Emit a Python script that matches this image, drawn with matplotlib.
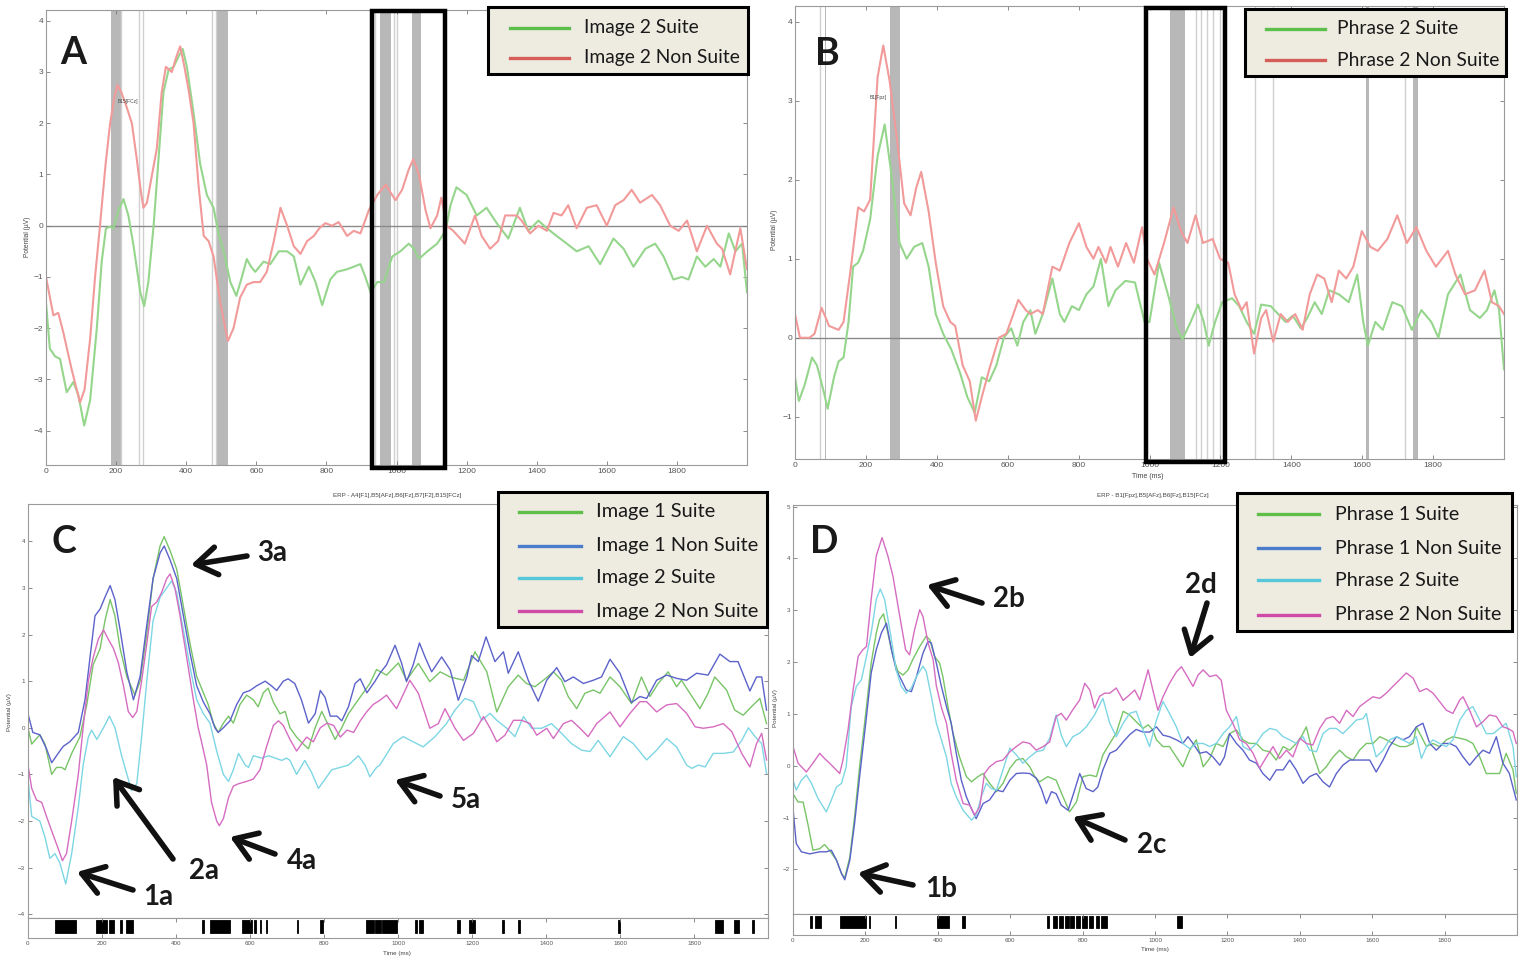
import matplotlib as mpl
mpl.use("Agg")
import matplotlib.pyplot as plt
import matplotlib.transforms as mtransforms
from matplotlib.patches import Rectangle, FancyArrowPatch
from matplotlib.lines import Line2D

plt.rcParams['font.family'] = ['Liberation Sans', 'DejaVu Sans']
plt.rcParams['lines.solid_joinstyle'] = 'round'

# ---------------- data (ms, microvolts) ----------------
# panel A
a_red_t = [0, 21, 35, 50, 73, 97, 110, 126, 140, 154, 170, 183, 195, 204, 215, 226, 245, 259, 270, 278, 288, 300, 316, 330, 342, 359, 372, 383, 395, 408, 421, 435, 450, 464, 478, 497, 519, 535, 554, 573, 592, 611, 630, 650, 669, 688, 707, 726, 745, 764, 780, 797, 816, 835, 859, 878, 897, 921, 945, 969, 997, 1016, 1035, 1048, 1064, 1083, 1097, 1116, 1128, 1143, 1162, 1195, 1224, 1243, 1267, 1290, 1310, 1343, 1357, 1381, 1405, 1429, 1448, 1471, 1490, 1514, 1543, 1571, 1600, 1624, 1648, 1671, 1695, 1729, 1752, 1781, 1805, 1829, 1857, 1886, 1914, 1929, 1952, 1981, 2000]
a_red_v = [-1.0, -1.75, -1.7, -2.1, -2.8, -3.45, -3.2, -2.2, -1.0, 0.0, 1.2, 2.0, 2.5, 2.75, 2.6, 2.4, 2.0, 1.3, 0.7, 0.35, 0.45, 0.9, 1.5, 2.6, 3.1, 3.0, 3.3, 3.5, 3.1, 2.6, 2.0, 0.8, -0.2, -0.3, -0.6, -1.5, -2.25, -2.0, -1.4, -1.15, -1.1, -1.1, -0.9, -0.3, 0.35, 0.0, -0.4, -0.55, -0.3, -0.2, -0.05, 0.05, 0.0, 0.07, -0.2, -0.1, -0.15, 0.3, 0.6, 0.8, 0.5, 0.7, 1.1, 1.3, 1.0, 0.3, -0.05, 0.2, 0.55, 0.0, -0.1, -0.35, 0.2, -0.2, -0.45, -0.3, 0.2, 0.2, 0.1, -0.15, 0.0, -0.1, 0.25, 0.2, 0.4, -0.05, 0.35, 0.4, 0.0, 0.4, 0.5, 0.7, 0.45, 0.6, 0.4, 0.0, -0.1, 0.1, -0.5, 0.0, -0.35, -0.45, -0.95, -0.05, -0.85]
a_green_t = [0, 11, 26, 40, 59, 78, 92, 109, 126, 145, 159, 171, 183, 192, 207, 221, 235, 250, 269, 280, 292, 307, 321, 335, 350, 364, 378, 390, 402, 421, 440, 459, 478, 492, 507, 526, 543, 559, 573, 585, 597, 621, 640, 664, 688, 707, 726, 750, 769, 788, 811, 830, 859, 878, 897, 911, 926, 945, 964, 988, 1011, 1035, 1050, 1064, 1088, 1116, 1140, 1154, 1171, 1200, 1229, 1257, 1286, 1319, 1352, 1376, 1405, 1429, 1457, 1486, 1514, 1548, 1581, 1619, 1648, 1676, 1710, 1738, 1762, 1790, 1814, 1833, 1857, 1881, 1905, 1924, 1948, 1967, 1986, 2000]
a_green_v = [-1.5, -2.4, -2.55, -2.6, -3.25, -3.05, -3.3, -3.9, -3.4, -2.0, -0.7, -0.05, -0.02, -0.05, 0.3, 0.52, 0.2, -0.4, -1.3, -1.57, -1.1, 0.0, 1.3, 2.6, 3.05, 3.1, 3.3, 3.45, 3.1, 2.2, 1.2, 0.6, 0.35, -0.15, -0.5, -1.1, -1.37, -1.0, -0.65, -0.8, -0.9, -0.7, -0.75, -0.5, -0.5, -0.6, -1.15, -0.8, -1.1, -1.55, -1.05, -0.9, -0.85, -0.8, -0.75, -1.0, -1.3, -1.1, -1.1, -0.6, -0.5, -0.35, -0.45, -0.65, -0.5, -0.35, -0.1, 0.4, 0.75, 0.6, 0.2, 0.35, 0.05, -0.25, 0.35, -0.1, 0.1, -0.05, -0.2, -0.35, -0.5, -0.4, -0.75, -0.25, -0.45, -0.8, -0.45, -0.35, -0.6, -1.05, -1.0, -1.05, -0.6, -0.8, -0.65, -0.8, -0.15, -0.5, -0.35, -1.3]

# panel B
b_red_t = [0, 14, 41, 55, 75, 96, 123, 137, 158, 178, 195, 212, 233, 249, 267, 288, 308, 326, 342, 356, 377, 397, 418, 438, 452, 473, 493, 510, 527, 548, 575, 596, 616, 630, 651, 664, 685, 699, 726, 747, 774, 801, 822, 842, 856, 877, 890, 911, 934, 956, 979, 993, 1014, 1041, 1068, 1089, 1107, 1130, 1151, 1178, 1199, 1222, 1240, 1260, 1274, 1295, 1315, 1329, 1349, 1370, 1390, 1411, 1432, 1452, 1473, 1493, 1514, 1534, 1555, 1575, 1599, 1623, 1644, 1671, 1699, 1726, 1753, 1781, 1808, 1842, 1863, 1890, 1918, 1945, 1966, 1986, 2000]
b_red_v = [0.3, 0.0, 0.0, 0.05, 0.38, 0.15, 0.1, 0.2, 0.9, 1.65, 1.6, 1.75, 3.3, 3.7, 3.25, 2.5, 1.7, 1.55, 1.9, 2.1, 1.6, 0.95, 0.4, 0.2, 0.15, -0.35, -0.55, -1.05, -0.75, -0.4, 0.0, 0.05, 0.3, 0.48, 0.35, 0.3, 0.35, 0.3, 0.9, 0.85, 1.2, 1.45, 1.15, 1.0, 1.15, 0.95, 1.15, 0.9, 1.2, 0.95, 1.4, 1.0, 0.8, 1.2, 1.65, 1.35, 1.2, 1.55, 1.2, 1.25, 1.0, 0.95, 0.55, 0.35, 0.45, -0.2, 0.25, 0.35, -0.05, 0.3, 0.2, 0.3, 0.1, 0.55, 0.8, 0.75, 0.45, 0.85, 0.75, 0.9, 1.35, 1.15, 1.1, 1.25, 1.55, 1.2, 1.4, 1.1, 0.9, 1.1, 0.8, 0.55, 0.6, 0.85, 0.45, 0.4, 0.3]
b_green_t = [0, 11, 27, 48, 62, 82, 92, 110, 123, 137, 151, 164, 178, 192, 212, 233, 253, 274, 295, 315, 336, 359, 377, 397, 418, 441, 466, 486, 507, 527, 548, 568, 589, 610, 627, 644, 664, 678, 699, 726, 747, 760, 781, 801, 822, 842, 863, 884, 904, 932, 959, 986, 1000, 1027, 1055, 1075, 1093, 1116, 1137, 1153, 1167, 1185, 1205, 1233, 1253, 1274, 1295, 1315, 1342, 1363, 1384, 1404, 1427, 1445, 1466, 1486, 1507, 1534, 1562, 1586, 1603, 1616, 1637, 1658, 1685, 1712, 1740, 1767, 1795, 1815, 1842, 1877, 1904, 1932, 1952, 1973, 1986, 2000]
b_green_v = [-0.5, -0.8, -0.6, -0.25, -0.35, -0.7, -0.9, -0.5, -0.3, -0.25, 0.2, 0.9, 0.95, 1.1, 1.5, 2.3, 2.7, 2.0, 1.2, 1.0, 1.15, 1.2, 0.9, 0.3, 0.05, -0.15, -0.45, -0.75, -0.95, -0.5, -0.55, -0.35, 0.0, 0.12, -0.1, 0.2, 0.35, 0.05, 0.3, 0.75, 0.3, 0.2, 0.4, 0.35, 0.55, 0.65, 1.0, 0.4, 0.6, 0.72, 0.7, 0.2, 0.2, 0.95, 0.5, 0.15, -0.02, 0.2, 0.42, 0.2, -0.1, 0.2, 0.45, 0.5, 0.4, 0.2, 0.05, 0.42, 0.4, 0.3, 0.2, 0.28, 0.12, 0.25, 0.45, 0.3, 0.6, 0.55, 0.45, 0.8, 0.2, -0.1, 0.2, 0.1, 0.45, 0.4, 0.1, 0.35, 0.2, 0.0, 0.55, 0.8, 0.35, 0.25, 0.35, 0.6, 0.35, -0.4]

# panel C
c_green_t = [0, 10, 32, 46, 64, 77, 91, 100, 118, 140, 159, 176, 195, 208, 222, 235, 249, 267, 289, 303, 321, 338, 357, 368, 384, 402, 420, 438, 456, 474, 487, 501, 514, 528, 542, 555, 573, 591, 609, 622, 636, 649, 663, 681, 695, 708, 726, 744, 758, 776, 794, 812, 830, 848, 866, 888, 906, 924, 942, 969, 1001, 1023, 1055, 1086, 1114, 1141, 1177, 1208, 1240, 1267, 1298, 1325, 1347, 1370, 1393, 1420, 1442, 1460, 1483, 1505, 1528, 1546, 1573, 1600, 1631, 1658, 1681, 1703, 1730, 1753, 1766, 1789, 1816, 1838, 1856, 1888, 1910, 1933, 1955, 1978, 1996]
c_green_v = [0.0, -0.35, -0.15, -0.35, -1.0, -0.85, -0.85, -0.9, -0.55, -0.2, 0.5, 1.35, 1.7, 2.3, 2.75, 2.4, 1.7, 1.1, 0.7, 1.0, 2.0, 3.2, 3.9, 4.1, 3.8, 3.4, 2.6, 1.8, 1.1, 0.75, 0.5, 0.1, -0.1, 0.1, 0.25, 0.1, 0.5, 0.7, 0.6, 0.45, 0.75, 0.85, 0.55, 0.3, 0.35, 0.0, -0.2, -0.35, -0.45, 0.0, 0.35, 0.05, -0.25, 0.0, 0.3, 0.55, 0.75, 0.95, 1.25, 1.13, 1.39, 1.02, 1.38, 0.99, 1.2, 1.09, 1.02, 1.63, 1.2, 0.34, 0.88, 1.13, 0.95, 0.88, 1.02, 1.2, 1.02, 0.67, 0.41, 0.74, 0.81, 0.74, 1.09, 0.88, 0.52, 1.09, 0.67, 0.95, 1.2, 0.88, 1.02, 0.74, 0.41, 0.74, 1.09, 0.81, 0.38, 0.27, 0.45, 0.63, 0.09]
c_blue_t = [0, 13, 32, 50, 64, 77, 95, 113, 136, 154, 172, 181, 195, 208, 222, 235, 249, 267, 285, 303, 321, 338, 357, 368, 384, 402, 420, 438, 456, 474, 492, 505, 514, 528, 546, 564, 582, 600, 618, 641, 658, 672, 690, 703, 721, 739, 758, 776, 790, 803, 817, 835, 848, 866, 884, 898, 916, 938, 951, 969, 992, 1010, 1023, 1041, 1058, 1073, 1091, 1118, 1141, 1163, 1186, 1199, 1217, 1238, 1262, 1285, 1298, 1325, 1352, 1379, 1402, 1429, 1451, 1474, 1501, 1528, 1550, 1573, 1600, 1631, 1654, 1672, 1699, 1726, 1753, 1780, 1807, 1838, 1870, 1897, 1919, 1951, 1969, 1983, 1996]
c_blue_v = [0.3, -0.1, -0.15, -0.45, -0.75, -0.6, -0.4, -0.3, -0.1, 0.6, 1.8, 2.4, 2.55, 2.8, 3.05, 2.75, 2.1, 1.2, 0.6, 1.1, 2.2, 3.2, 3.75, 3.9, 3.6, 3.2, 2.4, 1.6, 0.9, 0.55, 0.3, 0.0, -0.1, 0.0, 0.15, 0.5, 0.75, 0.8, 0.9, 1.0, 0.9, 0.8, 1.0, 1.05, 0.95, 0.6, 0.1, 0.3, 0.8, 0.65, 0.25, 0.25, 0.15, 0.45, 0.95, 1.05, 0.75, 1.0, 1.17, 1.35, 1.77, 1.38, 0.99, 1.35, 1.82, 1.52, 1.2, 1.52, 1.24, 0.59, 1.09, 1.55, 1.42, 1.95, 1.42, 1.63, 1.17, 1.63, 1.02, 0.57, 1.02, 1.29, 0.99, 1.09, 0.95, 1.02, 1.09, 1.47, 1.17, 0.54, 0.67, 0.63, 1.02, 1.13, 1.06, 1.02, 1.17, 1.13, 1.58, 1.42, 1.42, 0.79, 1.09, 1.09, 0.38]
c_cyan_t = [0, 10, 32, 46, 59, 73, 86, 102, 118, 136, 149, 163, 172, 186, 204, 220, 235, 253, 271, 280, 294, 307, 321, 338, 357, 375, 388, 402, 420, 438, 456, 474, 492, 510, 528, 542, 555, 569, 587, 596, 609, 632, 650, 668, 686, 699, 708, 726, 748, 766, 785, 803, 821, 844, 866, 893, 911, 924, 942, 951, 987, 1014, 1041, 1068, 1100, 1131, 1154, 1181, 1204, 1226, 1249, 1267, 1294, 1316, 1339, 1361, 1388, 1415, 1442, 1469, 1496, 1519, 1541, 1573, 1609, 1636, 1672, 1699, 1726, 1753, 1780, 1794, 1812, 1830, 1852, 1879, 1906, 1929, 1947, 1965, 1983, 1996]
c_cyan_v = [-1.1, -1.9, -2.0, -2.35, -2.8, -2.7, -2.9, -3.35, -2.7, -1.7, -0.8, -0.2, -0.05, -0.25, 0.0, 0.25, 0.0, -0.6, -1.1, -1.35, -1.2, -0.2, 1.0, 2.3, 2.8, 3.0, 3.15, 2.9, 2.1, 1.3, 0.6, 0.3, 0.1, -0.5, -1.0, -1.15, -0.9, -0.55, -0.8, -0.85, -0.6, -0.65, -0.6, -0.65, -0.7, -0.65, -0.7, -1.0, -0.7, -0.95, -1.3, -1.1, -0.9, -0.85, -0.8, -0.6, -0.8, -1.05, -0.85, -0.8, -0.34, -0.19, -0.3, -0.41, -0.19, 0.09, 0.38, 0.63, 0.56, 0.16, 0.31, 0.16, -0.01, -0.19, 0.24, -0.01, -0.01, 0.09, -0.12, -0.34, -0.48, -0.51, -0.27, -0.62, -0.19, -0.34, -0.69, -0.48, -0.23, -0.41, -0.8, -0.87, -0.8, -0.84, -0.55, -0.55, -0.52, -0.27, 0.0, -0.19, -0.34, -0.98]
c_mag_t = [0, 10, 23, 37, 50, 68, 82, 93, 104, 118, 136, 149, 163, 176, 190, 204, 217, 231, 244, 258, 271, 283, 294, 307, 321, 334, 348, 361, 375, 384, 397, 411, 429, 447, 460, 469, 483, 496, 510, 517, 528, 542, 555, 569, 591, 609, 627, 645, 663, 677, 690, 708, 726, 739, 753, 771, 790, 808, 826, 844, 862, 880, 898, 916, 933, 951, 969, 996, 1032, 1055, 1086, 1109, 1127, 1154, 1177, 1204, 1231, 1249, 1267, 1289, 1312, 1334, 1357, 1375, 1402, 1420, 1447, 1469, 1492, 1514, 1537, 1573, 1600, 1627, 1654, 1672, 1699, 1726, 1753, 1780, 1803, 1825, 1852, 1879, 1902, 1929, 1951, 1969, 1983, 1996]
c_mag_v = [-0.8, -1.3, -1.55, -1.6, -1.9, -2.3, -2.6, -2.85, -2.7, -2.0, -1.0, 0.0, 1.0, 1.5, 1.9, 2.1, 1.9, 1.7, 1.4, 0.9, 0.35, 0.22, 0.35, 1.0, 1.8, 2.6, 2.7, 2.9, 3.2, 3.3, 3.0, 2.4, 1.5, 0.6, 0.0, -0.3, -0.8, -1.6, -2.0, -2.1, -1.95, -1.5, -1.25, -1.2, -1.15, -1.1, -0.9, -0.4, 0.05, 0.15, 0.05, -0.25, -0.5, -0.35, -0.2, -0.3, 0.0, 0.1, 0.05, -0.2, -0.05, -0.1, 0.15, 0.35, 0.5, 0.59, 0.7, 0.41, 1.02, 0.74, -0.01, 0.09, 0.41, -0.01, -0.27, -0.12, 0.24, -0.01, -0.3, -0.16, 0.16, 0.16, 0.09, -0.16, -0.01, -0.23, 0.09, 0.16, -0.01, -0.19, 0.09, 0.34, 0.02, 0.31, 0.56, 0.56, 0.34, 0.49, 0.52, 0.31, 0.02, -0.01, 0.02, 0.09, -0.08, -0.55, -0.84, -0.34, -0.12, -0.69]

# panel D
d_green_t = [0, 14, 28, 41, 55, 74, 87, 101, 120, 134, 143, 157, 170, 184, 203, 216, 230, 239, 250, 262, 276, 290, 304, 318, 331, 350, 368, 378, 391, 405, 414, 428, 442, 460, 479, 493, 511, 525, 543, 562, 580, 599, 617, 635, 654, 668, 681, 704, 727, 746, 764, 783, 801, 820, 838, 856, 875, 893, 912, 930, 948, 967, 981, 994, 1004, 1022, 1040, 1059, 1077, 1096, 1114, 1133, 1151, 1169, 1188, 1206, 1225, 1243, 1261, 1280, 1298, 1317, 1335, 1354, 1372, 1390, 1404, 1418, 1436, 1455, 1473, 1492, 1510, 1529, 1547, 1565, 1584, 1602, 1621, 1639, 1657, 1676, 1694, 1713, 1722, 1736, 1750, 1768, 1786, 1805, 1823, 1842, 1860, 1878, 1897, 1915, 1934, 1952, 1970, 1989, 1998]
d_green_v = [-0.54, -0.7, -0.7, -1.12, -1.63, -1.6, -1.52, -1.63, -1.82, -2.08, -2.16, -1.76, -0.99, -0.02, 1.14, 1.98, 2.56, 2.82, 2.93, 2.56, 2.11, 1.82, 1.75, 1.85, 2.05, 2.3, 2.5, 2.43, 2.11, 1.98, 1.72, 1.14, 0.63, 0.17, -0.21, -0.31, -0.21, -0.15, -0.34, -0.5, -0.34, -0.05, 0.11, 0.14, -0.02, -0.21, -0.31, -0.21, -0.28, -0.6, -0.89, -0.7, -0.21, -0.18, -0.21, 0.21, 0.43, 0.63, 1.05, 0.98, 0.85, 0.72, 0.79, 0.69, 0.5, 0.37, 0.37, 0.17, -0.02, 0.3, 0.5, -0.02, 0.14, 0.43, 0.37, 0.62, 0.69, 0.5, 0.43, 0.43, 0.3, 0.27, 0.11, 0.37, 0.3, 0.43, 0.56, 0.75, 0.24, -0.15, -0.02, 0.17, 0.3, 0.17, 0.11, 0.3, 0.43, 0.43, 0.56, 0.5, 0.43, 0.37, 0.37, 0.43, 0.75, 0.56, 0.37, 0.43, 0.37, 0.5, 0.56, 0.53, 0.5, 0.43, 0.17, -0.15, -0.15, -0.15, 0.24, -0.08, -0.53]
d_blue_t = [0, 9, 23, 46, 74, 92, 106, 120, 134, 143, 157, 170, 184, 203, 216, 230, 244, 258, 272, 285, 299, 313, 327, 341, 359, 373, 382, 396, 410, 424, 437, 451, 465, 479, 493, 506, 525, 543, 562, 580, 599, 617, 635, 654, 672, 686, 700, 714, 727, 741, 760, 778, 792, 810, 829, 842, 856, 875, 893, 912, 930, 948, 967, 985, 1004, 1022, 1040, 1059, 1077, 1091, 1105, 1123, 1142, 1160, 1179, 1192, 1206, 1225, 1243, 1261, 1280, 1298, 1317, 1335, 1354, 1372, 1390, 1409, 1427, 1446, 1464, 1482, 1501, 1519, 1538, 1556, 1575, 1593, 1611, 1630, 1648, 1667, 1685, 1703, 1722, 1740, 1759, 1777, 1796, 1814, 1832, 1851, 1869, 1888, 1906, 1924, 1943, 1961, 1979, 1998]
d_blue_v = [-0.83, -1.5, -1.66, -1.7, -1.66, -1.66, -1.63, -1.82, -2.08, -2.2, -1.82, -1.12, -0.21, 0.95, 1.79, 2.24, 2.56, 2.75, 2.24, 1.85, 1.66, 1.46, 1.43, 1.72, 2.17, 2.4, 2.37, 1.98, 1.53, 1.14, 0.82, 0.24, -0.28, -0.6, -0.83, -1.02, -0.73, -0.66, -0.47, -0.5, -0.28, -0.15, -0.14, -0.15, -0.24, -0.44, -0.73, -0.5, -0.54, -0.76, -0.86, -0.47, -0.15, -0.44, -0.5, -0.41, -0.08, 0.24, 0.3, 0.46, 0.6, 0.7, 0.65, 0.65, 0.75, 0.59, 0.56, 0.5, 0.43, 0.56, 0.43, 0.24, 0.27, 0.17, 0.01, 0.17, 0.62, 0.43, 0.3, 0.11, 0.05, -0.15, -0.28, -0.08, -0.08, 0.11, -0.08, -0.34, -0.21, -0.15, -0.31, -0.41, -0.15, 0.01, 0.11, 0.11, 0.11, 0.11, -0.12, 0.11, 0.37, 0.56, 0.5, 0.56, 0.75, 0.82, 0.43, 0.3, 0.43, 0.43, 0.37, 0.17, 0.01, 0.17, 0.3, 0.24, 0.56, 0.05, -0.15, -0.66]
d_cyan_t = [0, 9, 23, 37, 51, 69, 92, 106, 120, 134, 147, 161, 175, 189, 203, 216, 230, 241, 253, 272, 285, 299, 313, 327, 341, 359, 368, 382, 396, 410, 424, 437, 451, 470, 493, 506, 520, 534, 548, 562, 580, 599, 617, 635, 654, 672, 691, 709, 727, 741, 755, 773, 792, 810, 833, 856, 875, 893, 912, 930, 948, 967, 985, 1004, 1022, 1040, 1059, 1077, 1096, 1114, 1133, 1151, 1169, 1188, 1206, 1225, 1243, 1261, 1280, 1298, 1317, 1335, 1354, 1372, 1390, 1409, 1427, 1446, 1464, 1482, 1501, 1519, 1538, 1556, 1575, 1584, 1598, 1611, 1630, 1648, 1667, 1685, 1703, 1722, 1736, 1750, 1768, 1786, 1805, 1823, 1842, 1860, 1878, 1897, 1915, 1934, 1952, 1970, 1989, 1998]
d_cyan_v = [-0.28, -0.47, -0.28, -0.18, -0.34, -0.63, -0.89, -0.66, -0.41, -0.34, -0.02, 1.14, 1.53, 1.66, 2.11, 2.56, 3.21, 3.41, 3.21, 2.43, 1.85, 1.53, 1.4, 1.5, 1.72, 1.92, 1.82, 1.34, 0.82, 0.5, 0.17, -0.34, -0.6, -0.86, -1.05, -0.95, -0.6, -0.34, -0.44, -0.47, -0.08, 0.34, 0.21, 0.05, 0.17, 0.27, 0.3, 0.53, 0.98, 0.59, 0.37, 0.56, 0.63, 0.75, 0.98, 1.3, 0.82, 0.56, 0.82, 1.01, 1.05, 0.69, 0.37, 0.88, 1.24, 1.01, 0.75, 0.43, 0.33, 0.43, 0.43, 0.37, 0.43, 0.62, 0.75, 0.95, 0.37, 0.3, 0.43, 0.62, 0.72, 0.69, 0.56, 0.5, 0.43, 0.56, 0.3, 0.27, 0.62, 0.72, 0.72, 0.62, 0.75, 0.88, 0.91, 1.01, 0.5, 0.17, 0.3, 0.5, 0.56, 0.5, 0.43, 0.56, 0.14, 0.37, 0.5, 0.43, 0.37, 0.5, 0.88, 1.07, 1.14, 0.88, 0.62, 0.62, 0.72, 0.82, 0.37, -0.21]
d_mag_t = [0, 14, 37, 55, 74, 87, 101, 115, 129, 138, 152, 166, 180, 193, 203, 216, 230, 246, 262, 276, 295, 311, 322, 336, 350, 359, 373, 387, 396, 410, 424, 437, 451, 470, 488, 502, 516, 529, 543, 562, 580, 599, 617, 635, 654, 672, 691, 709, 727, 741, 755, 773, 792, 806, 820, 833, 847, 861, 875, 893, 912, 930, 944, 958, 981, 994, 1008, 1022, 1040, 1059, 1073, 1087, 1105, 1119, 1133, 1151, 1169, 1183, 1197, 1215, 1234, 1252, 1271, 1289, 1308, 1326, 1344, 1363, 1381, 1400, 1418, 1436, 1455, 1473, 1492, 1510, 1529, 1547, 1565, 1584, 1602, 1621, 1639, 1657, 1676, 1694, 1713, 1731, 1750, 1768, 1786, 1805, 1823, 1842, 1851, 1869, 1888, 1906, 1924, 1943, 1961, 1975, 1989, 1998]
d_mag_v = [0.37, 0.05, -0.12, 0.05, 0.24, 0.14, 0.05, -0.05, -0.15, 0.11, 0.69, 1.46, 2.11, 2.24, 2.3, 3.21, 4.05, 4.4, 4.05, 3.66, 2.88, 2.24, 2.14, 2.63, 3.01, 2.88, 2.37, 2.05, 1.54, 1.12, 0.82, 0.24, -0.28, -0.73, -0.76, -0.95, -0.79, -0.15, -0.02, 0.08, 0.11, 0.27, 0.37, 0.46, 0.43, 0.3, 0.37, 0.46, 0.95, 1.01, 0.88, 1.08, 1.27, 1.59, 1.46, 1.11, 1.34, 1.4, 1.4, 1.5, 1.26, 1.37, 1.46, 1.27, 1.85, 1.46, 1.07, 1.33, 1.59, 1.81, 1.91, 1.75, 1.53, 1.75, 1.85, 1.72, 1.75, 1.65, 1.07, 0.82, 0.5, 0.43, 0.24, -0.05, 0.17, 0.37, 0.14, 0.3, 0.17, 0.53, 0.43, 0.4, 0.72, 0.91, 0.95, 0.82, 1.07, 0.95, 1.14, 1.24, 1.33, 1.3, 1.4, 1.53, 1.66, 1.79, 1.69, 1.43, 1.49, 1.4, 1.24, 1.07, 1.01, 1.27, 1.33, 1.07, 0.75, 0.85, 0.98, 0.95, 0.75, 0.72, 0.66, 0.43]

# significance shading (ms)
a_band_start = [186, 486, 954, 1045]
a_band_end = [213, 519, 983, 1070]
a_band_lines = [213, 265, 276, 475, 485, 940, 994, 1000]
b_band_start = [84, 267, 1059, 1610, 1742]
b_band_end = [88, 297, 1099, 1620, 1756]
b_band_lines = [71, 1130, 1144, 1162, 1178, 1199, 1299, 1348, 1722]

# significance raster (ms)
c_sig_start = [74, 185, 219, 250, 266, 470, 493, 579, 610, 626, 642, 726, 788, 914, 938, 958, 1047, 1058, 1160, 1193, 1280, 1324, 1595, 1858, 1907, 1956]
c_sig_end = [130, 214, 233, 254, 283, 477, 545, 605, 615, 629, 646, 731, 796, 934, 955, 998, 1051, 1068, 1167, 1208, 1286, 1330, 1600, 1878, 1922, 1961]
d_sig_start = [48, 62, 131, 210, 281, 397, 468, 703, 719, 734, 750, 766, 783, 798, 819, 836, 852, 1062]
d_sig_end = [53, 76, 202, 212, 284, 430, 474, 707, 730, 745, 762, 775, 794, 812, 828, 844, 868, 1075]

a_labels = ["Image 2 Suite", "Image 2 Non Suite"]
b_labels = ["Phrase 2 Suite", "Phrase 2 Non Suite"]
c_labels = ["Image 1 Suite", "Image 1 Non Suite", "Image 2 Suite", "Image 2 Non Suite"]
d_labels = ["Phrase 1 Suite", "Phrase 1 Non Suite", "Phrase 2 Suite", "Phrase 2 Non Suite"]
x_ticks = [0, 200, 400, 600, 800, 1000, 1200, 1400, 1600, 1800]

# colours
PALE_GREEN, PALE_RED = "#95d68c", "#f29a9a"
GREEN, BLUE, CYAN, MAGENTA = "#78c467", "#5b62c9", "#7dd6e4", "#d66cc1"
LEG_BG = "#eeece1"

# ---------------- figure ----------------
W, H = 1523, 957
fig = plt.figure(figsize=(W / 100, H / 100), dpi=100)
# pixel transform, origin top-left like the picture
PX = mtransforms.Affine2D().scale(1.0 / W, -1.0 / H).translate(0, 1) + fig.transFigure


def px_axes(x0, y0, x1, y1):
    return fig.add_axes([x0 / W, 1 - y1 / H, (x1 - x0) / W, (y1 - y0) / H])


def style(ax, fs):
    for s in ax.spines.values():
        s.set_color("#9a9a9a")
        s.set_linewidth(0.8)
    ax.tick_params(direction="in", length=3, width=0.6, color="#777777",
                   labelsize=fs, labelcolor="#555555", pad=2, top=True, right=True)


def legend_box(x0, y0, x1, y1, labels, colors, ys, hx0, hx1, tx, fs):
    fig.add_artist(Rectangle((x0, y0), x1 - x0, y1 - y0, transform=PX,
                             facecolor=LEG_BG, edgecolor="black", lw=2.2, zorder=5))
    for lab, c, y in zip(labels, colors, ys):
        fig.add_artist(Line2D([hx0, hx1], [y, y], transform=PX, color=c, lw=2.4, zorder=6))
        fig.text(tx, y, lab, transform=PX, fontsize=fs, family="Lato",
                 color="#1a1a1a", va="center", ha="left", zorder=7)


def arrow(tail, head):
    fig.add_artist(FancyArrowPatch(tail, head, transform=PX,
                                   arrowstyle="->,head_length=0.75,head_width=0.5",
                                   mutation_scale=20, lw=4, color="#111111",
                                   shrinkA=0, shrinkB=0, zorder=8))


def big_label(x, y, s, fs=20):
    fig.text(x, y, s, transform=PX, fontsize=fs, family="Lato", weight="bold",
             color="#1a1a1a", ha="center", va="center", zorder=8)


# ---- panel A ----
axA = px_axes(46, 10, 747, 465)
for t0, t1 in zip(a_band_start, a_band_end):
    axA.axvspan(t0, t1, color="#b8b8b8", lw=0, zorder=0.5)
for t in a_band_lines:
    axA.axvline(t, color="#d0d0d0", lw=1.0, zorder=0.6)
axA.axhline(0, color="#8a8a8a", lw=1.0, zorder=1)
axA.plot(a_green_t, a_green_v, color=PALE_GREEN, lw=1.5, zorder=2)
axA.plot(a_red_t, a_red_v, color=PALE_RED, lw=1.5, zorder=2)
axA.set_xlim(0, 2000)
axA.set_ylim(-4.67, 4.21)
axA.set_xticks(x_ticks)
axA.set_yticks([-4, -3, -2, -1, 0, 1, 2, 3, 4])
style(axA, 6)

# ---- panel B ----
axB = px_axes(795, 6, 1504, 459)
for t0, t1 in zip(b_band_start, b_band_end):
    axB.axvspan(t0, t1, color="#b8b8b8", lw=0, zorder=0.5)
for t in b_band_lines:
    axB.axvline(t, color="#d0d0d0", lw=1.0, zorder=0.6)
axB.axhline(0, color="#8a8a8a", lw=1.0, zorder=1)
axB.plot(b_green_t, b_green_v, color=PALE_GREEN, lw=1.5, zorder=2)
axB.plot(b_red_t, b_red_v, color=PALE_RED, lw=1.5, zorder=2)
axB.set_xlim(0, 2000)
axB.set_ylim(-1.535, 4.2)
axB.set_xticks(x_ticks)
axB.set_yticks([-1, 0, 1, 2, 3, 4])
style(axB, 6)

# ---- panel C ----
axC = px_axes(28, 504, 768, 918)
axC.plot(c_green_t, c_green_v, color=GREEN, lw=1.0)
axC.plot(c_blue_t, c_blue_v, color=BLUE, lw=1.0)
axC.plot(c_cyan_t, c_cyan_v, color=CYAN, lw=1.0)
axC.plot(c_mag_t, c_mag_v, color=MAGENTA, lw=1.0)
axC.set_xlim(0, 2000)
axC.set_ylim(-4.08, 4.8)
axC.set_yticks([-4, -3, -2, -1, 0, 1, 2, 3, 4])
style(axC, 4.5)
axC.tick_params(bottom=False, top=False, labelbottom=False)

axCs = px_axes(28, 918, 768, 938)
for t0, t1 in zip(c_sig_start, c_sig_end):
    axCs.axvspan(t0, t1, ymin=0.27, ymax=0.92, facecolor="black", edgecolor="black", lw=0.6)
axCs.set_xlim(0, 2000)
axCs.set_ylim(0, 1)
axCs.set_yticks([])
axCs.set_xticks(x_ticks)
style(axCs, 4.5)

# ---- panel D ----
axD = px_axes(793, 505, 1517, 914)
axD.plot(d_green_t, d_green_v, color=GREEN, lw=1.0)
axD.plot(d_blue_t, d_blue_v, color=BLUE, lw=1.0)
axD.plot(d_cyan_t, d_cyan_v, color=CYAN, lw=1.0)
axD.plot(d_mag_t, d_mag_v, color=MAGENTA, lw=1.0)
axD.set_xlim(0, 2000)
axD.set_ylim(-2.86, 5.03)
axD.set_yticks([-2, -1, 0, 1, 2, 3, 4, 5])
style(axD, 4.5)
axD.tick_params(bottom=False, top=False, labelbottom=False)

axDs = px_axes(793, 914, 1517, 935)
for t0, t1 in zip(d_sig_start, d_sig_end):
    axDs.axvspan(t0, t1, ymin=0.33, ymax=0.9, facecolor="black", edgecolor="black", lw=0.6)
axDs.set_xlim(0, 2000)
axDs.set_ylim(0, 1)
axDs.set_yticks([])
axDs.set_xticks(x_ticks)
style(axDs, 4.5)

# ---- small MATLAB-style texts ----
small = dict(transform=PX, color="#444444", ha="center", va="center")
fig.text(28, 237, "Potential (\u00b5V)", rotation=90, fontsize=4.8, **small)
fig.text(775, 230, "Potential (\u00b5V)", rotation=90, fontsize=4.8, **small)
fig.text(10, 712, "Potential (\u00b5V)", rotation=90, fontsize=4.5, **small)
fig.text(776, 708, "Potential (\u00b5V)", rotation=90, fontsize=4.5, **small)
fig.text(1148, 477, "Time (ms)", fontsize=5, **small)
fig.text(397, 953, "Time (ms)", fontsize=4.5, **small)
fig.text(1155, 950, "Time (ms)", fontsize=4.5, **small)
fig.text(397, 495, "ERP - A4[F1],B5[AFz],B6[Fz],B7[F2],B15[FCz]", fontsize=4.5, **small)
fig.text(1153, 495, "ERP - B1[Fpz],B5[AFz],B6[Fz],B15[FCz]", fontsize=4.5, **small)
fig.text(128, 101, "B15[FCz]", fontsize=3.5, **small)
fig.text(878, 97, "B1[Fpz]", fontsize=3.5, **small)

# ---- highlight boxes ----
fig.add_artist(Rectangle((372, 11), 73, 457, transform=PX, fill=False,
                         edgecolor="black", lw=3.2, zorder=4))
fig.add_artist(Rectangle((1146, 8), 79, 454, transform=PX, fill=False,
                         edgecolor="black", lw=3.2, zorder=4))

# ---- legends ----
legend_box(488, 7, 748, 74, a_labels, ["#5cbf4c", "#d65e5a"], [28, 58], 510, 569, 584, 13.9)
legend_box(1245, 9, 1506, 76, b_labels, ["#5cbf4c", "#d65e5a"], [29, 60], 1266, 1325, 1337, 13.9)
legend_box(498, 492, 767, 627, c_labels, ["#5fbe48", "#4a7ccb", "#57c8da", "#d04aa8"],
           [512, 546, 578, 611], 519, 581, 596, 14.4)
legend_box(1237, 493, 1512, 631, d_labels, ["#5fbe48", "#4a7ccb", "#57c8da", "#d04aa8"],
           [514, 548, 580, 615], 1258, 1319, 1335, 14.2)

# ---- panel letters ----
big_label(73, 53, "A", 27)
big_label(827, 54, "B", 27)
big_label(64, 542, "C", 27)
big_label(824, 542, "D", 27)

# ---- annotations ----
big_label(272, 553, "3a")
arrow((247, 556), (191, 565))
big_label(204, 871, "2a")
arrow((173, 859), (113, 777))
big_label(302, 861, "4a")
arrow((275, 854), (230, 837))
big_label(158, 897, "1a")
arrow((133, 890), (77, 872))
big_label(466, 800, "5a")
arrow((440, 796), (395, 780))

big_label(1009, 599, "2b")
arrow((982, 603), (927, 585))
big_label(1152, 845, "2c")
arrow((1125, 840), (1073, 817))
big_label(941, 889, "1b")
arrow((913, 885), (858, 873))
big_label(1201, 585, "2d")
arrow((1207, 603), (1190, 658))

fig.savefig("out.png", dpi=100)
